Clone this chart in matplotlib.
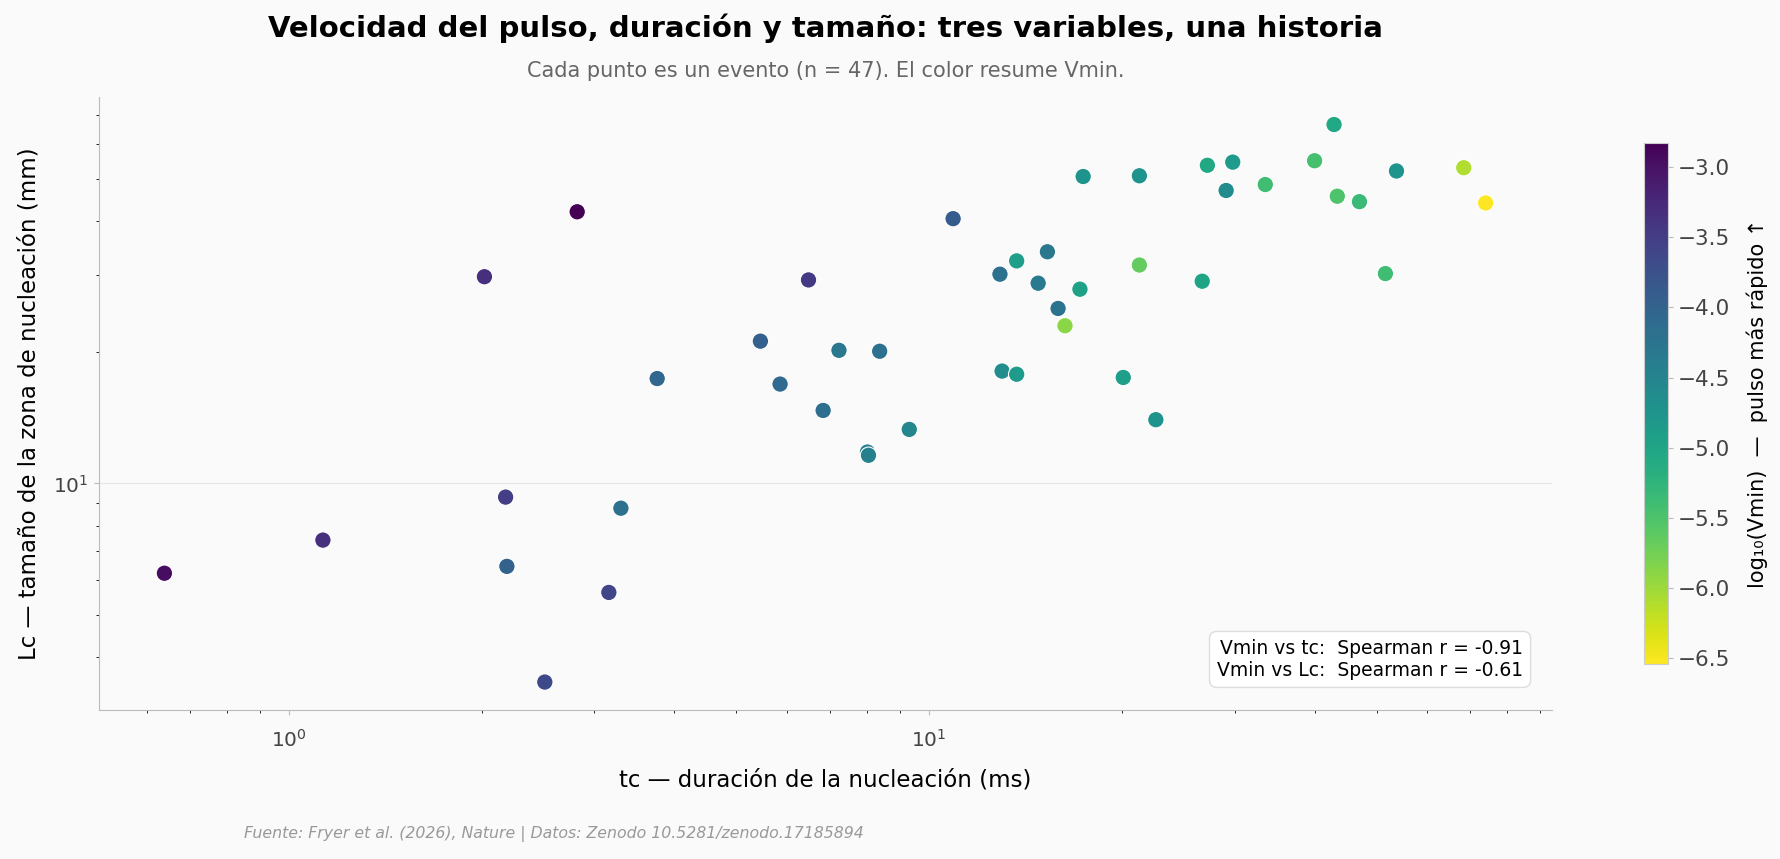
import numpy as np
import matplotlib
matplotlib.use("Agg")
import matplotlib.pyplot as plt
from matplotlib.colors import Normalize

# event data (tc in ms, Lc in mm, log10 Vmin)
tc = [0.639, 1.13, 2.02, 2.18, 2.19, 2.51, 2.82, 3.16, 3.30, 3.76,
      5.45, 5.85, 6.48, 6.83, 7.23, 8.01, 8.04, 8.37, 9.31, 10.9,
      12.9, 13.0, 13.7, 13.7, 14.8, 15.3, 15.9, 16.3, 17.2, 17.4,
      20.1, 21.3, 21.3, 22.6, 26.7, 27.2, 29.1, 29.8, 33.5, 40.0,
      42.9, 43.4, 47.0, 51.6, 53.7, 68.4, 74.0]
lc = [6.22, 7.41, 29.8, 9.3, 6.45, 3.50, 42.0, 5.62, 8.77, 17.4,
      21.2, 16.9, 29.3, 14.7, 20.2, 11.8, 11.6, 20.1, 13.3, 40.5,
      30.2, 18.1, 17.8, 32.4, 28.8, 34.0, 25.2, 23.0, 27.9, 50.6,
      17.5, 31.7, 50.8, 14.0, 29.1, 53.7, 47.0, 54.6, 48.5, 55.0,
      66.6, 45.6, 44.3, 30.3, 52.1, 53.0, 44.0]
log_vmin = [-2.95, -3.35, -3.35, -3.5, -4.0, -3.65, -2.83, -3.6, -4.2, -4.05,
            -3.95, -4.1, -3.45, -4.15, -4.3, -4.4, -4.45, -4.2, -4.55, -3.9,
            -4.2, -4.65, -4.85, -4.9, -4.35, -4.3, -4.25, -5.9, -4.95, -4.75,
            -4.9, -5.65, -4.75, -4.75, -5.0, -5.05, -4.6, -4.85, -5.4, -5.45,
            -5.05, -5.5, -5.35, -5.4, -4.75, -6.1, -6.54]

title = "Velocidad del pulso, duración y tamaño: tres variables, una historia"
subtitle = "Cada punto es un evento (n = 47). El color resume Vmin."
stats = "Vmin vs tc:  Spearman r = -0.91\nVmin vs Lc:  Spearman r = -0.61"
source = "Fuente: Fryer et al. (2026), Nature | Datos: Zenodo 10.5281/zenodo.17185894"

bg = "#fafafa"
fig = plt.figure(figsize=(17.8, 8.59), dpi=100, facecolor=bg)
ax = fig.add_axes([0.0556, 0.1735, 0.8164, 0.7135], facecolor=bg)
cax = fig.add_axes([0.9236, 0.227, 0.0135, 0.6065])

norm = Normalize(vmin=min(log_vmin), vmax=max(log_vmin))
sc = ax.scatter(tc, lc, c=log_vmin, cmap="viridis_r", norm=norm, s=140,
                edgecolors="white", linewidths=0.8, zorder=3)
ax.set_xscale("log"); ax.set_yscale("log")
ax.set_xlim(0.505, 94); ax.set_ylim(3.02, 77)

for s in ("top", "right"):
    ax.spines[s].set_visible(False)
for s in ("left", "bottom"):
    ax.spines[s].set_color("#bbbbbb")
ax.tick_params(colors="#bbbbbb", labelcolor="#444444", labelsize=14.5)
ax.tick_params(axis="x", which="major", pad=10)
ax.tick_params(axis="y", which="major", pad=4)
ax.grid(True, axis="y", which="major", color="#e6e6e6", linewidth=0.8, zorder=0)

ax.set_xlabel("tc — duración de la nucleación (ms)", fontsize=16.5, labelpad=13)
ax.set_ylabel("Lc — tamaño de la zona de nucleación (mm)", fontsize=16.5, labelpad=9)

cb = fig.colorbar(sc, cax=cax)
cb.outline.set_edgecolor("#cccccc")
cb.ax.tick_params(labelsize=15.5, labelcolor="#444444", color="#bbbbbb")
cb.set_label("log₁₀(Vmin)  —  pulso más rápido ↑", fontsize=15, labelpad=12)

ax.text(0.98, 0.049, stats, transform=ax.transAxes, ha="right", va="bottom",
        fontsize=13.5, linespacing=1.2,
        bbox=dict(boxstyle="round,pad=0.4", facecolor="white", edgecolor="#dddddd"))

cx = 0.0556 + 0.8164 / 2
fig.text(cx, 0.967, title, ha="center", va="center", fontsize=21, fontweight="bold")
fig.text(cx, 0.917, subtitle, ha="center", va="center", fontsize=15, color="#666666")
fig.text(0.137, 0.029, source, ha="left", va="center", fontsize=11.3,
         style="italic", color="#999999")

fig.savefig("out.png", dpi=100, facecolor=bg)
